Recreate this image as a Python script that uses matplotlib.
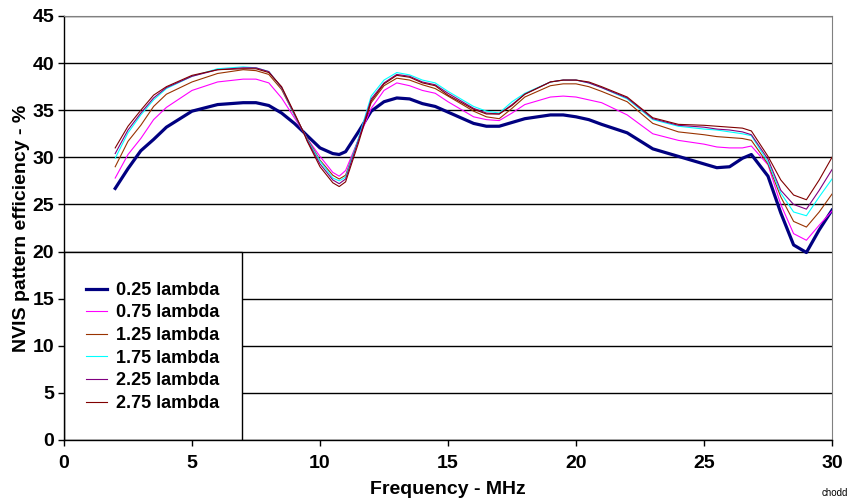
import matplotlib
matplotlib.use("Agg")
import matplotlib.pyplot as plt
from matplotlib.patches import Rectangle

plt.rcParams['font.family'] = ['Liberation Sans', 'DejaVu Sans']

# frequency points (MHz)
freq = [2, 2.5, 3, 3.5, 4, 5, 6, 7, 7.5, 8, 8.5, 9, 9.35, 9.5, 10, 10.5, 10.75, 11,
        11.5, 12, 12.5, 13, 13.5, 14, 14.5, 15, 16, 16.5, 17, 17.5, 18, 19, 19.5,
        20, 20.5, 21, 22, 23, 24, 25, 25.5, 26, 26.5, 26.85, 27.5, 28, 28.5, 29,
        29.5, 30]

eff_025 = [26.7, 28.8, 30.7, 31.9, 33.2, 34.9, 35.6, 35.8, 35.8, 35.5, 34.7, 33.6,
           32.7, 32.3, 31.0, 30.4, 30.3, 30.6, 32.7, 34.9, 35.9, 36.3, 36.2, 35.7,
           35.4, 34.8, 33.6, 33.3, 33.3, 33.7, 34.1, 34.5, 34.5, 34.3, 34.0, 33.5,
           32.6, 30.9, 30.1, 29.3, 28.9, 29.0, 29.9, 30.3, 28.0, 24.1, 20.7, 19.9,
           22.3, 24.4]
eff_075 = [27.8, 30.3, 32.0, 34.0, 35.3, 37.1, 38.0, 38.3, 38.3, 37.9, 36.3, 34.2,
           32.7, 32.0, 30.1, 28.4, 28.0, 28.6, 31.9, 35.2, 37.1, 37.9, 37.6, 37.1,
           36.8, 35.9, 34.3, 34.0, 33.9, 34.7, 35.6, 36.4, 36.5, 36.4, 36.1, 35.8,
           34.5, 32.5, 31.8, 31.4, 31.1, 31.0, 31.0, 31.2, 29.2, 25.0, 21.9, 21.2,
           22.8, 24.3]
eff_125 = [29.0, 31.7, 33.4, 35.4, 36.7, 38.0, 38.9, 39.3, 39.2, 38.8, 37.2, 34.5,
           32.7, 32.0, 29.7, 28.1, 27.7, 28.1, 31.9, 35.8, 37.6, 38.4, 38.2, 37.7,
           37.3, 36.5, 34.9, 34.3, 34.1, 35.2, 36.4, 37.6, 37.8, 37.8, 37.5, 37.0,
           35.9, 33.6, 32.7, 32.4, 32.2, 32.1, 32.0, 31.8, 29.3, 25.8, 23.2, 22.6,
           24.2, 26.1]
eff_175 = [29.9, 32.6, 34.5, 36.1, 37.3, 38.6, 39.4, 39.6, 39.5, 39.1, 37.4, 34.5,
           32.7, 31.9, 29.6, 27.8, 27.5, 27.9, 32.0, 36.5, 38.2, 39.0, 38.75, 38.2,
           37.9, 37.0, 35.4, 34.9, 34.7, 35.9, 36.8, 38.0, 38.2, 38.2, 37.9, 37.4,
           36.2, 34.0, 33.3, 33.0, 32.9, 32.7, 32.5, 32.3, 29.5, 26.2, 24.2, 23.8,
           25.8, 27.7]
eff_225 = [30.4, 32.9, 34.7, 36.3, 37.4, 38.6, 39.3, 39.5, 39.5, 39.1, 37.4, 34.6,
           32.7, 31.8, 29.3, 27.6, 27.2, 27.7, 31.8, 36.2, 37.9, 38.8, 38.6, 38.0,
           37.7, 36.8, 35.2, 34.7, 34.6, 35.6, 36.7, 38.0, 38.2, 38.2, 37.9, 37.4,
           36.3, 34.1, 33.4, 33.2, 33.0, 32.9, 32.7, 32.4, 29.8, 26.5, 25.0, 24.5,
           26.5, 28.7]
eff_275 = [31.0, 33.3, 35.0, 36.6, 37.5, 38.7, 39.3, 39.4, 39.4, 39.0, 37.5, 34.7,
           32.7, 31.7, 29.0, 27.3, 26.9, 27.4, 31.5, 36.0, 37.8, 38.7, 38.5, 37.9,
           37.6, 36.6, 35.1, 34.6, 34.6, 35.5, 36.7, 38.0, 38.2, 38.2, 38.0, 37.5,
           36.4, 34.2, 33.5, 33.4, 33.3, 33.2, 33.1, 32.8, 30.1, 27.6, 26.0, 25.5,
           27.6, 30.0]

labels = ['0.25 lambda', '0.75 lambda', '1.25 lambda', '1.75 lambda',
          '2.25 lambda', '2.75 lambda']
colors = ['#000080', '#FF00FF', '#993300', '#00FFFF', '#800080', '#800000']
series = [eff_025, eff_075, eff_125, eff_175, eff_225, eff_275]

fig = plt.figure(figsize=(8.53, 5.0), dpi=100)
ax = fig.add_axes([64 / 853, 60 / 500, 768 / 853, 424 / 500])

for vals, lab, col in zip(series, labels, colors):
    lw = 2.3 if lab == '0.25 lambda' else 0.8
    ax.plot(freq, vals, color=col, lw=lw, label=lab, zorder=3)

ax.set_xlim(0, 30)
ax.set_ylim(0, 45)
ax.set_xticks(range(0, 31, 5))
ax.set_yticks(range(0, 46, 5))
ax.yaxis.grid(True, color='black', lw=1.0)
ax.set_axisbelow(True)

for s in ['top', 'right']:
    ax.spines[s].set_color('#808080')
for s in ['left', 'bottom']:
    ax.spines[s].set_color('black')
    ax.spines[s].set_linewidth(1.0)
ax.tick_params(direction='out', length=4, width=1, labelsize=14)
ax.tick_params(axis='x', pad=7)
ax.tick_params(axis='y', pad=3)
for t in ax.get_xticklabels() + ax.get_yticklabels():
    t.set_fontweight('bold')

ax.set_xlabel('Frequency - MHz', fontsize=14, fontweight='bold', labelpad=6)
ax.set_ylabel('NVIS pattern efficiency - %', fontsize=14, fontweight='bold', labelpad=2)

# legend box sits in the lower-left corner of the plot area
box = Rectangle((0, 0), 6.95, 20, facecolor='white', edgecolor='black', lw=1.0, zorder=2.5)
ax.add_patch(box)
leg = ax.legend(loc='upper left', bbox_to_anchor=(0.019, 0.39), frameon=False,
                prop={'weight': 'bold', 'size': 13}, handlelength=1.2,
                handletextpad=0.45, labelspacing=0.31, borderaxespad=0)
leg.set_zorder(4)

fig.text(0.994, 0.004, 'chodd', ha='right', va='bottom', fontsize=7)

fig.savefig('out.png', dpi=100)
